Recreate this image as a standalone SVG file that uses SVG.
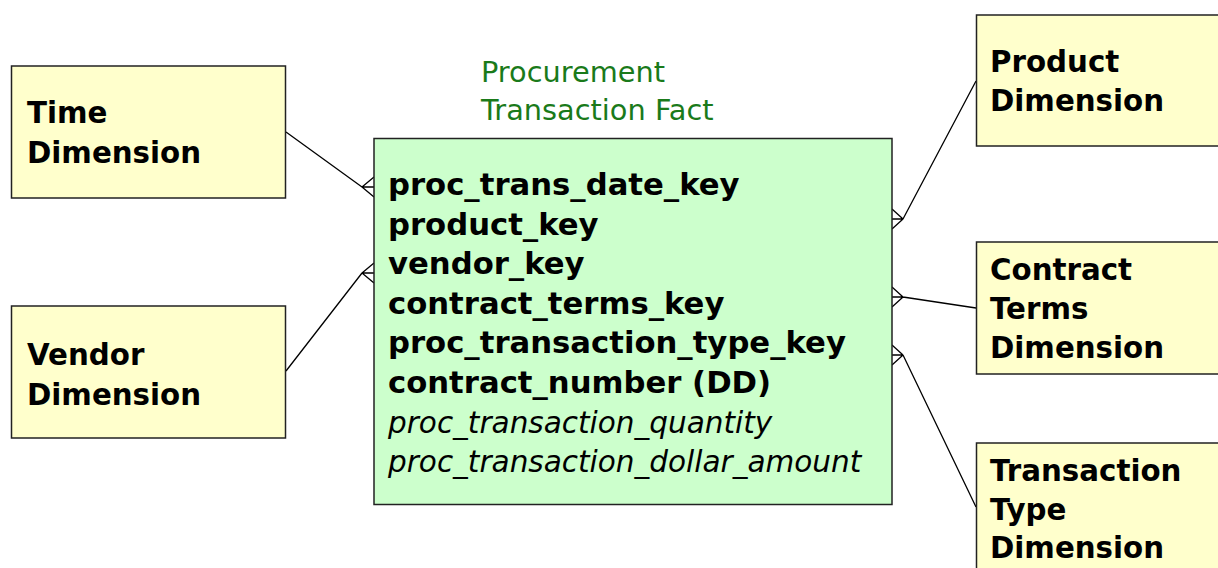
<svg xmlns="http://www.w3.org/2000/svg" width="1218" height="568" viewBox="0 0 1218 568">
<style>
.dim{fill:#FFFFCC;stroke:#222;stroke-width:1.5}
.fact{fill:#CCFFCC;stroke:#222;stroke-width:1.5}
.lbl{font-family:"DejaVu Sans",Verdana,sans-serif;font-weight:bold;font-size:29.3px;fill:#000}
.key{font-family:"DejaVu Sans",Verdana,sans-serif;font-weight:bold;font-size:30.7px;fill:#000}
.mea{font-family:"DejaVu Sans",Verdana,sans-serif;font-style:italic;font-size:29.5px;fill:#000}
.ttl{font-family:"DejaVu Sans",Verdana,sans-serif;font-size:28.8px;fill:#1a7a1a}
.cn{fill:none;stroke:#000;stroke-width:1.3}
</style>
<rect width="1218" height="568" fill="#fff"/>
<g id="connectors">
<path class="cn" d="M286 132 L362 187 M362 187 L374 177 M362 187 L374 187 M362 187 L374 197"/>
<path class="cn" d="M286 371 L362 273 M362 273 L374 263 M362 273 L374 273 M362 273 L374 283"/>
<path class="cn" d="M976 81 L903 219 M903 219 L892 209 M903 219 L892 219 M903 219 L892 229"/>
<path class="cn" d="M976 308 L903 297 M903 297 L892 287 M903 297 L892 297 M903 297 L892 307"/>
<path class="cn" d="M976 507 L903 355 M903 355 L892 345 M903 355 L892 355 M903 355 L892 365"/>
</g>
<g id="time">
<rect class="dim" x="11.5" y="66" width="274" height="132"/>
<text class="lbl" x="27" y="123">Time</text>
<text class="lbl" x="27" y="163">Dimension</text>
</g>
<g id="vendor">
<rect class="dim" x="11.5" y="306" width="274" height="132"/>
<text class="lbl" x="27" y="365">Vendor</text>
<text class="lbl" x="27" y="405">Dimension</text>
</g>
<g id="fact">
<text class="ttl" x="481" y="82">Procurement</text>
<text class="ttl" x="481" y="120">Transaction Fact</text>
<rect class="fact" x="374" y="138.5" width="518" height="366"/>
<text class="key" x="388" y="195">proc_trans_date_key</text>
<text class="key" x="388" y="234.6">product_key</text>
<text class="key" x="388" y="274.2">vendor_key</text>
<text class="key" x="388" y="313.8">contract_terms_key</text>
<text class="key" x="388" y="353.4">proc_transaction_type_key</text>
<text class="key" x="388" y="393">contract_number (DD)</text>
<text class="mea" x="388" y="432.6">proc_transaction_quantity</text>
<text class="mea" x="388" y="472.2">proc_transaction_dollar_amount</text>
</g>
<g id="product">
<rect class="dim" x="976.5" y="15" width="260" height="131"/>
<text class="lbl" x="990" y="72">Product</text>
<text class="lbl" x="990" y="111">Dimension</text>
</g>
<g id="contract">
<rect class="dim" x="976.5" y="242" width="260" height="132"/>
<text class="lbl" x="990" y="280">Contract</text>
<text class="lbl" x="990" y="319">Terms</text>
<text class="lbl" x="990" y="358">Dimension</text>
</g>
<g id="transtype">
<rect class="dim" x="976.5" y="443" width="260" height="140"/>
<text class="lbl" x="990" y="481">Transaction</text>
<text class="lbl" x="990" y="520">Type</text>
<text class="lbl" x="990" y="558">Dimension</text>
</g>
</svg>
